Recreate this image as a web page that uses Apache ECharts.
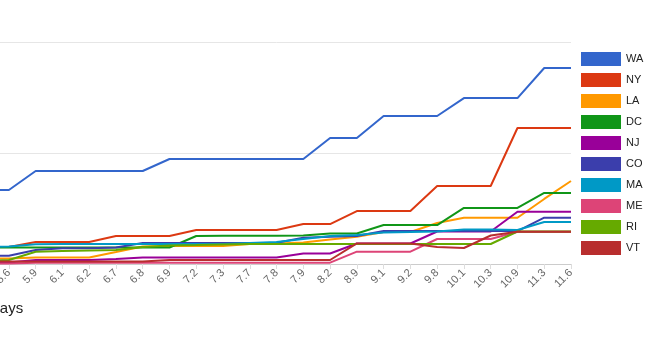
<!DOCTYPE html>
<html>
<head>
<meta charset="utf-8">
<style>
  html, body { margin: 0; padding: 0; background: #ffffff; overflow: hidden; }
  /* the drawing area starts a little left of the window so the first day sits off-screen */
  #chart { position: absolute; left: -20px; top: 0; width: 670px; height: 340px; }
</style>
<script src="https://cdn.jsdelivr.net/npm/echarts@6/dist/echarts.min.js"></script>
</head>
<body>
<div id="chart"></div>
<script>
// Day labels along the x axis (first entry lies left of the visible area)
const days = ['', '5.6', '5.9', '6.1', '6.2', '6.7', '6.8', '6.9', '7.2', '7.3', '7.7', '7.8',
  '7.9', '8.2', '8.9', '9.1', '9.2', '9.8', '10.1', '10.3', '10.9', '11.3', '11.6'];

const stateNames = ['WA', 'NY', 'LA', 'DC', 'NJ', 'CO', 'MA', 'ME', 'RI', 'VT'];

const WA = [66.7, 66.7, 83.8, 83.8, 83.8, 83.8, 83.8, 94.6, 94.6, 94.6, 94.6, 94.6, 94.6, 113.5, 113.5, 133.3, 133.3, 133.3, 149.5, 149.5, 149.5, 176.6, 176.6];
const NY = [15.3, 15.3, 19.8, 19.8, 19.8, 25.2, 25.2, 25.2, 30.6, 30.6, 30.6, 30.6, 36.0, 36.0, 47.7, 47.7, 47.7, 70.3, 70.3, 70.3, 122.5, 122.5, 122.5];
const LA = [5.0, 5.0, 5.9, 5.9, 5.9, 10.8, 15.8, 16.2, 16.2, 16.2, 18.0, 18.5, 19.4, 22.1, 24.6, 28.8, 28.8, 36.9, 41.7, 41.7, 41.7, 58.6, 74.8];
const DC = [14.9, 14.9, 14.9, 14.9, 14.9, 14.9, 14.9, 14.9, 25.2, 25.5, 25.5, 25.5, 25.7, 27.5, 27.5, 35.1, 35.1, 35.1, 50.5, 50.5, 50.5, 64.0, 64.0];
const NJ = [0.5, 1.4, 3.6, 3.6, 3.6, 4.5, 5.9, 5.9, 5.9, 5.9, 5.9, 5.9, 9.5, 9.5, 18.5, 18.5, 18.5, 29.3, 29.3, 29.3, 47.1, 47.1, 47.1];
const CO = [7.5, 7.5, 12.6, 14.1, 14.1, 14.9, 18.9, 18.9, 18.9, 18.9, 18.9, 19.2, 23.7, 24.6, 25.2, 29.7, 29.7, 29.7, 29.7, 29.7, 29.7, 41.7, 41.7];
const MA = [15.3, 15.8, 17.7, 18.0, 18.0, 18.0, 18.0, 18.0, 18.0, 18.0, 18.9, 19.8, 22.5, 25.2, 26.1, 28.4, 28.8, 29.3, 31.1, 31.1, 30.6, 37.8, 37.8];
const ME = [0.5, 0.5, 1.2, 1.2, 1.2, 1.2, 1.2, 1.2, 1.2, 1.2, 1.2, 1.2, 1.2, 1.2, 11.1, 11.1, 11.1, 22.5, 22.5, 22.5, 29.1, 29.1, 29.1];
const RI = [2.7, 3.6, 11.1, 11.7, 12.2, 12.6, 15.3, 16.7, 17.1, 17.6, 18.0, 18.0, 18.0, 18.0, 18.0, 18.0, 18.0, 18.0, 18.0, 18.0, 29.3, 29.3, 29.3];
const VT = [2.3, 2.3, 2.3, 2.3, 2.3, 2.3, 2.3, 3.6, 3.6, 3.6, 3.6, 3.6, 3.6, 3.6, 18.5, 18.5, 18.5, 15.3, 14.4, 25.7, 29.1, 29.1, 29.1];

const stateValues = [WA, NY, LA, DC, NJ, CO, MA, ME, RI, VT];
const palette = ['#3366cc', '#dc3912', '#ff9900', '#109618', '#990099',
  '#3b3eac', '#0099c6', '#dd4477', '#66aa00', '#b82e2e'];

const chart = echarts.init(document.getElementById('chart'), null, { renderer: 'canvas' });

chart.setOption({
  animation: false,
  color: palette,
  textStyle: { fontFamily: 'Liberation Sans, Arial, sans-serif' },
  title: {
    text: 'Days',
    left: 4,
    top: 296,
    textStyle: { fontSize: 15, fontWeight: 'normal', color: '#222222' }
  },
  legend: {
    orient: 'vertical',
    left: 596,
    top: 47,
    itemWidth: 40,
    itemHeight: 14,
    itemGap: 7,
    icon: 'rect',
    data: stateNames,
    textStyle: { fontSize: 11, color: '#222222' }
  },
  grid: { left: 0.24, right: 79, top: 42, bottom: 76, containLabel: false },
  xAxis: {
    type: 'category',
    data: days,
    boundaryGap: false,
    axisLine: { lineStyle: { color: '#cccccc', width: 1 } },
    axisTick: { show: true, length: 5, lineStyle: { color: '#dddddd' } },
    axisLabel: { rotate: 45, fontSize: 11, color: '#666666', margin: 7, interval: 0 },
    splitLine: { show: false }
  },
  yAxis: {
    type: 'value',
    min: 0,
    max: 200,
    interval: 100,
    axisLine: { show: false },
    axisTick: { show: false },
    axisLabel: { show: false },
    splitLine: { lineStyle: { color: '#e6e6e6', width: 1 } }
  },
  series: stateNames.map((name, i) => ({
    name: name,
    type: 'line',
    data: stateValues[i],
    symbol: 'none',
    lineStyle: { width: 2 },
    emphasis: { disabled: true }
  }))
});
</script>
</body>
</html>
